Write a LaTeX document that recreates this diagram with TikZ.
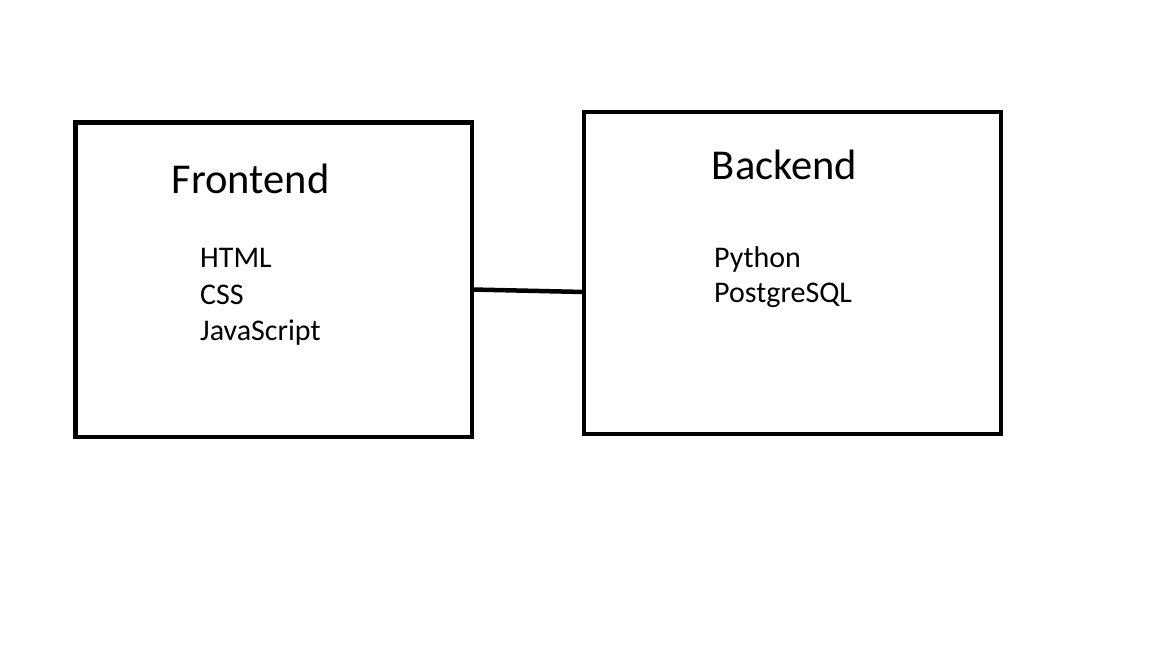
\documentclass[tikz,border=0pt]{standalone}
\usepackage{fontspec}
\setmainfont{Carlito}
\begin{document}
\begin{tikzpicture}[x=1pt,y=-1pt,
  box/.style={draw=black,line width=4.5pt,minimum width=#1,outer sep=0pt,inner sep=0pt},
  title/.style={anchor=base west,inner sep=0pt,font=\fontsize{42.5}{50}\selectfont},
  item/.style={anchor=base west,inner sep=0pt,font=\fontsize{30}{36}\selectfont}]
\useasboundingbox[fill=white] (0,0) rectangle (1152,648);
\node[box=396.5pt,minimum height=314.3pt] (front) at (273.75,279.85) {};
\node[box=416.8pt,minimum height=322pt] (back) at (792.4,273) {};
\node[title] (ftitle) at (171.7,193.3) {Frontend};
\node[item] (html) at (200,267.7) {HTML};
\node[item] (css) at (200,304.2) {CSS};
\node[item] (js) at (200,340.7) {JavaScript};
\node[title] (btitle) at (711.7,179.3) {Backend};
\node[item] (py) at (714,267.7) {Python};
\node[item] (pg) at (714,302.6) {PostgreSQL};
\coordinate (c1) at (front.east |- 0,289.5);
\coordinate (c2) at (back.west |- 0,292);
\draw[line width=4.5pt] (c1) -- (c2);
\end{tikzpicture}
\end{document}
